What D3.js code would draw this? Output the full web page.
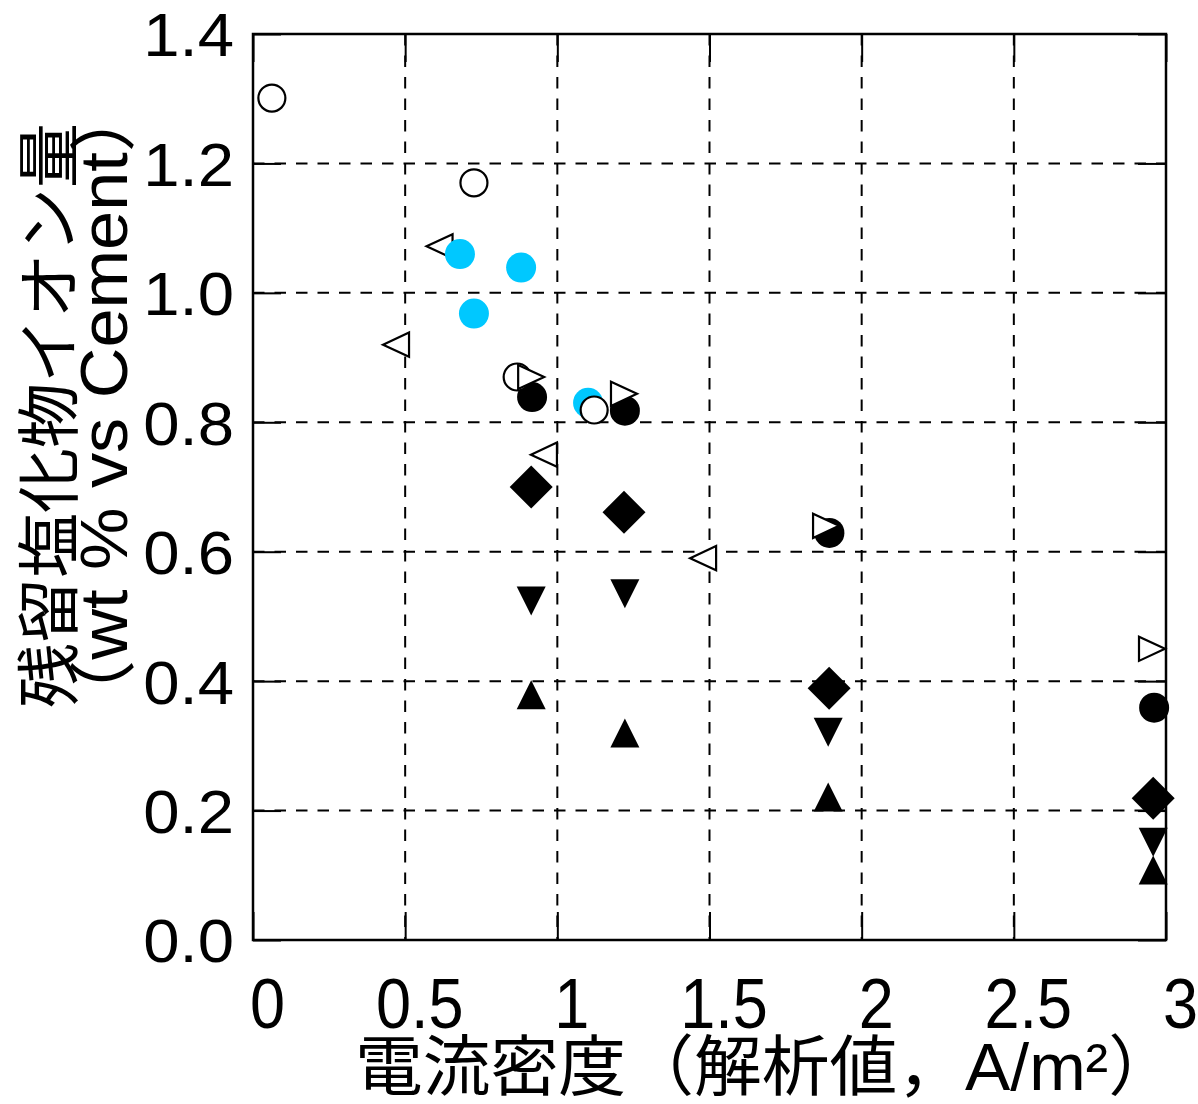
<!DOCTYPE html>
<html>
<head>
<meta charset="utf-8">
<script src="https://cdn.jsdelivr.net/npm/d3@7"></script>
<style>
  body { margin: 0; background: #fff; }
  svg { display: block; }
</style>
</head>
<body>
<svg id="chart" width="1198" height="1104"></svg>
<script>
// ---- data ----
const xTicks = [0, 0.5, 1, 1.5, 2, 2.5, 3];
const xTickLabels = ["0", "0.5", "1", "1.5", "2", "2.5", "3"];
const yTicks = [0, 0.2, 0.4, 0.6, 0.8, 1.0, 1.2, 1.4];
const yTickLabels = ["0.0", "0.2", "0.4", "0.6", "0.8", "1.0", "1.2", "1.4"];

const xTitle = "電流密度（解析値，A/m²）";
const yTitleLine1 = "残留塩化物イオン量";
const yTitleLine2 = "（wt % vs Cement）";

// [current density, residual chloride]
const openTriLeft  = [[0.613, 1.072], [0.47, 0.92], [0.956, 0.75], [1.479, 0.59]];
const cyanCircles  = [[0.68, 1.06], [0.881, 1.039], [0.726, 0.968], [1.101, 0.83]];
const openCircles  = [[0.062, 1.301], [0.726, 1.17], [0.868, 0.87], [1.121, 0.819]];
const openTriRight = [[0.914, 0.87], [1.219, 0.844], [1.883, 0.64], [2.954, 0.45]];
const blackCircles = [[0.917, 0.839], [1.222, 0.818], [1.894, 0.629], [2.961, 0.359]];
const blackDiamonds = [[0.914, 0.70], [1.219, 0.661], [1.893, 0.389], [2.958, 0.219]];
const blackTriDown = [[0.914, 0.524], [1.222, 0.535], [1.89, 0.321], [2.958, 0.151]];
const blackTriUp   = [[0.914, 0.379], [1.222, 0.32], [1.89, 0.221], [2.958, 0.108]];

// ---- layout ----
const svg = d3.select("#chart");
const plotL = 253, plotR = 1166, plotT = 34, plotB = 940;
const x = d3.scaleLinear().domain([0, 3]).range([plotL, plotR]);
const y = d3.scaleLinear().domain([0, 1.4]).range([plotB, plotT]);
const TICK = 28;

// dashed grid
const grid = svg.append("g").attr("stroke", "#000").attr("stroke-width", 2)
  .attr("stroke-dasharray", "11.5,10").attr("fill", "none");
grid.selectAll("line.v").data(xTicks.slice(1, -1)).join("line")
  .attr("x1", d => x(d)).attr("x2", d => x(d))
  .attr("y1", plotT).attr("y2", plotB);
grid.selectAll("line.h").data(yTicks.slice(1, -1)).join("line")
  .attr("x1", plotL).attr("x2", plotR)
  .attr("y1", d => y(d)).attr("y2", d => y(d));

// ---- marker shapes (size = half extent in px) ----
const circleType = { draw(ctx, r) { ctx.moveTo(r, 0); ctx.arc(0, 0, r, 0, 2 * Math.PI); ctx.closePath(); } };
const triLeftType = { draw(ctx, r) { ctx.moveTo(-r, 0); ctx.lineTo(r, -r * 0.93); ctx.lineTo(r, r * 0.93); ctx.closePath(); } };
const triRightType = { draw(ctx, r) { ctx.moveTo(r, 0); ctx.lineTo(-r, -r * 0.93); ctx.lineTo(-r, r * 0.93); ctx.closePath(); } };
const triDownType = { draw(ctx, r) { ctx.moveTo(-r, -r); ctx.lineTo(r, -r); ctx.lineTo(0, r); ctx.closePath(); } };
const triUpType = { draw(ctx, r) { ctx.moveTo(-r, r); ctx.lineTo(r, r); ctx.lineTo(0, -r); ctx.closePath(); } };
const diamondType = { draw(ctx, r) { ctx.moveTo(0, -r); ctx.lineTo(r, 0); ctx.lineTo(0, r); ctx.lineTo(-r, 0); ctx.closePath(); } };

// drawing order: later series sit on top
const seriesList = [
  { data: openTriLeft,   type: triLeftType,  size: 13,   fill: "#fff",    stroke: "#000" },
  { data: cyanCircles,   type: circleType,   size: 15,   fill: "#00c8ff", stroke: "none" },
  { data: blackCircles,  type: circleType,   size: 15,   fill: "#000",    stroke: "none" },
  { data: openCircles,   type: circleType,   size: 13.5, fill: "#fff",    stroke: "#000" },
  { data: openTriRight,  type: triRightType, size: 13,   fill: "#fff",    stroke: "#000" },
  { data: blackDiamonds, type: diamondType,  size: 21.5, fill: "#000",    stroke: "none" },
  { data: blackTriDown,  type: triDownType,  size: 14.5, fill: "#000",    stroke: "none" },
  { data: blackTriUp,    type: triUpType,    size: 14.5, fill: "#000",    stroke: "none" }
];

const marks = svg.append("g");
seriesList.forEach(s => {
  const sym = d3.symbol().type(s.type).size(s.size);
  marks.append("g").selectAll("path").data(s.data).join("path")
    .attr("transform", d => `translate(${x(d[0])},${y(d[1])})`)
    .attr("d", sym)
    .attr("fill", s.fill)
    .attr("stroke", s.stroke)
    .attr("stroke-width", 2.2)
    .attr("stroke-linejoin", "miter");
});

// ---- axes: inward ticks on all four sides ----
function styleAxis(g) {
  g.select(".domain").remove();
  g.selectAll(".tick line").attr("stroke", "#000").attr("stroke-width", 2);
}

svg.append("g").attr("transform", `translate(0,${plotB})`)
  .call(d3.axisBottom(x).tickValues(xTicks).tickFormat((d, i) => xTickLabels[i])
    .tickSizeInner(-TICK).tickSizeOuter(0))
  .call(styleAxis)
  .call(g => g.selectAll(".tick text")
    .attr("font-family", "'Liberation Sans', Arial, sans-serif")
    .attr("font-size", 70).attr("fill", "#000")
    .attr("text-anchor", "middle")
    .attr("y", 88).attr("dy", 0)
    .attr("transform", "translate(14,0) scale(0.9,1)"));

svg.append("g").attr("transform", `translate(0,${plotT})`)
  .call(d3.axisTop(x).tickValues(xTicks).tickFormat("").tickSizeInner(-TICK).tickSizeOuter(0))
  .call(styleAxis);

svg.append("g").attr("transform", `translate(${plotL},0)`)
  .call(d3.axisLeft(y).tickValues(yTicks).tickFormat((d, i) => yTickLabels[i])
    .tickSizeInner(-TICK).tickSizeOuter(0))
  .call(styleAxis)
  .call(g => g.selectAll(".tick text")
    .attr("font-family", "'Liberation Sans', Arial, sans-serif")
    .attr("font-size", 61).attr("fill", "#000")
    .attr("text-anchor", "end")
    .attr("x", -19 / 1.07).attr("dy", "0.36em")
    .attr("transform", "scale(1.07,1)"));

svg.append("g").attr("transform", `translate(${plotR},0)`)
  .call(d3.axisRight(y).tickValues(yTicks).tickFormat("").tickSizeInner(-TICK).tickSizeOuter(0))
  .call(styleAxis);

// plot frame on top
svg.append("rect")
  .attr("x", plotL).attr("y", plotT)
  .attr("width", plotR - plotL).attr("height", plotB - plotT)
  .attr("fill", "none").attr("stroke", "#000").attr("stroke-width", 2.5);

// ---- titles ----
const titleFont = "'Liberation Sans', 'Noto Sans CJK JP', sans-serif";

svg.append("text")
  .attr("x", 355).attr("y", 1090)
  .attr("font-family", titleFont).attr("font-size", 66).attr("fill", "#000")
  .attr("textLength", 821).attr("lengthAdjust", "spacingAndGlyphs")
  .text(xTitle);

svg.append("text")
  .attr("transform", "translate(72,708) rotate(-90)")
  .attr("font-family", titleFont).attr("font-size", 64).attr("fill", "#000")
  .attr("textLength", 585).attr("lengthAdjust", "spacingAndGlyphs")
  .text(yTitleLine1);

svg.append("text")
  .attr("transform", "translate(127,730) rotate(-90)")
  .attr("font-family", titleFont).attr("font-size", 67).attr("fill", "#000")
  .attr("textLength", 648).attr("lengthAdjust", "spacingAndGlyphs")
  .text(yTitleLine2);
</script>
</body>
</html>
